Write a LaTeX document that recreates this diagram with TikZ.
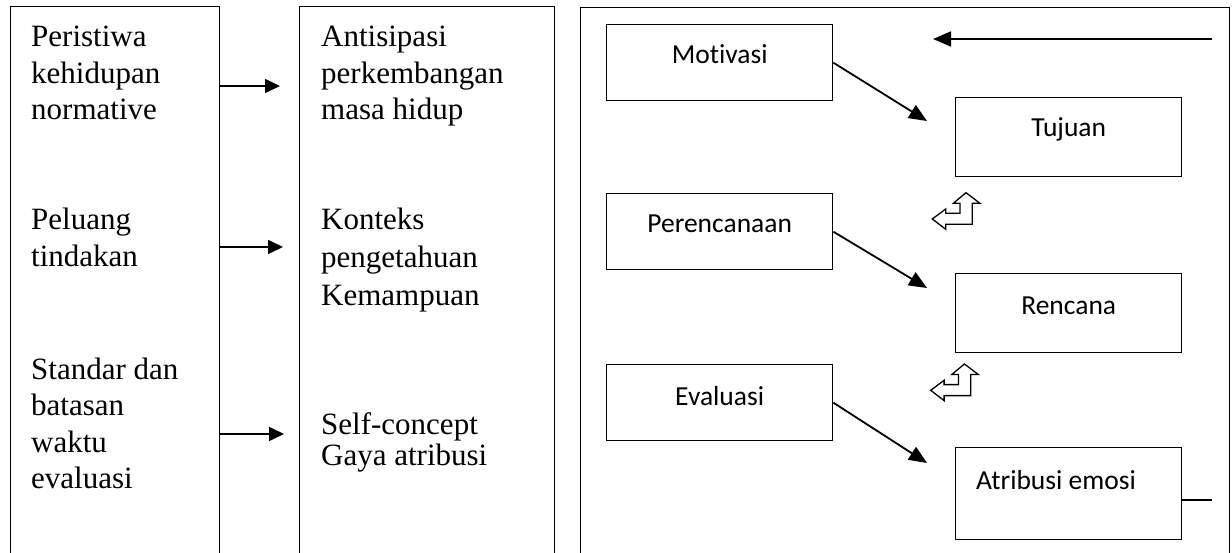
\documentclass[tikz,border=0pt]{standalone}
\usepackage{fontspec}
\setmainfont{Liberation Serif}
\newfontfamily\calfont[Ligatures=NoCommon]{Carlito}
\usetikzlibrary{arrows.meta}
\tikzset{
  colbox/.style={draw, line width=1.3pt, inner sep=0pt, anchor=north west, minimum height=560pt},
  smallbox/.style={draw, line width=1.4pt, inner sep=0pt, anchor=north west, minimum width=226pt},
  ttext/.style={font=\fontsize{31}{36.5}\selectfont, align=left, anchor=base west, inner sep=0pt},
  ctext/.style={font=\calfont\fontsize{27.5}{33}\selectfont, anchor=base, inner sep=0pt},
  harr/.style={line width=1.6pt, -{Triangle[length=15pt,width=14pt]}},
  darr/.style={line width=1.8pt, -{Triangle[length=18pt,width=15pt]}},
  leftup/.pic={\draw[line width=1.3pt, line join=miter, fill=white]
     (0,0) -- (13.4,-10) -- (13.4,-5.7) -- (27.7,-5.7) -- (27.7,-15.7) -- (21,-15.7)
     -- (33.7,-26.3) -- (47.7,-15.7) -- (40,-15.7) -- (40,5.3) -- (13.4,5.3)
     -- (13.4,10.3) -- cycle;}
}
\begin{document}
\begin{tikzpicture}[x=1pt,y=-1pt]
\useasboundingbox[fill=white] (0,0) rectangle (1232,553);

% three column frames
\node[colbox, minimum width=209pt] (lbox) at (10,6) {};
\node[colbox, minimum width=255pt] (mbox) at (299,6) {};
\node[colbox, minimum width=649pt] (rbox) at (580,7) {};

% left column texts (anchor = baseline of the last line)
\node[ttext] (l1) at (31,120) {Peristiwa\\kehidupan\\normative};
\node[ttext] (l2) at (31,266.5) {Peluang\\tindakan};
\node[ttext] (l3) at (31,488.5) {Standar dan\\batasan\\waktu\\evaluasi};

% middle column texts
\node[ttext] (m1) at (321,120) {Antisipasi\\perkembangan\\masa hidup};
\node[ttext, font=\fontsize{31}{38}\selectfont] (m2) at (321,306) {Konteks\\pengetahuan\\Kemampuan};
\node[ttext, font=\fontsize{31}{31}\selectfont] (m3) at (321,465) {Self-concept\\Gaya atribusi};

% horizontal arrows between columns
\coordinate (ya) at (0,86);
\coordinate (yb) at (0,247);
\coordinate (yc) at (0,434);
\draw[harr, shorten >=19pt] (lbox.east |- ya) -- (mbox.west |- ya);
\draw[harr, shorten >=16pt] (lbox.east |- yb) -- (mbox.west |- yb);
\draw[harr, shorten >=15pt] (lbox.east |- yc) -- (mbox.west |- yc);

% right panel boxes
\node[smallbox, minimum height=76pt] (mot) at (606,24) {};
\node[smallbox, minimum height=79pt] (tuj) at (955,97) {};
\node[smallbox, minimum height=76pt] (per) at (606,193) {};
\node[smallbox, minimum height=79pt] (ren) at (955,273) {};
\node[smallbox, minimum height=76pt] (eva) at (606,364) {};
\node[smallbox, minimum height=92pt] (atr) at (955,447) {};

\node[ctext] (motT) at ([yshift=-40pt]mot.north) {Motivasi};
\node[ctext] (tujT) at ([yshift=-40pt]tuj.north) {Tujuan};
\node[ctext] (perT) at ([yshift=-40pt]per.north) {Perencanaan};
\node[ctext] (renT) at ([yshift=-42pt]ren.north) {Rencana};
\node[ctext] (evaT) at ([yshift=-41pt]eva.north) {Evaluasi};
\node[ctext, anchor=base west] (atrT) at ([xshift=21pt,yshift=-42pt]atr.north west) {Atribusi emosi};

% diagonal arrows
\coordinate (t1) at (927,121);
\coordinate (t2) at (927,288);
\coordinate (t3) at (927,463);
\draw[darr] (mot.east) -- (t1);
\draw[darr] (per.east) -- (t2);
\draw[darr] (eva.east) -- (t3);

% top arrow
\coordinate (topS) at (1212,39);
\coordinate (topE) at (933,39);
\draw[darr] (topS) -- (topE);

% line from Atribusi emosi
\coordinate (atrEnd) at (1212,500);
\draw[line width=1.3pt] (atr.east |- atrEnd) -- (atrEnd);

% left-up block arrows
\pic (ic1) at (932.3,219) {leftup};
\pic (ic2) at (930.7,390.3) {leftup};
\end{tikzpicture}
\end{document}
